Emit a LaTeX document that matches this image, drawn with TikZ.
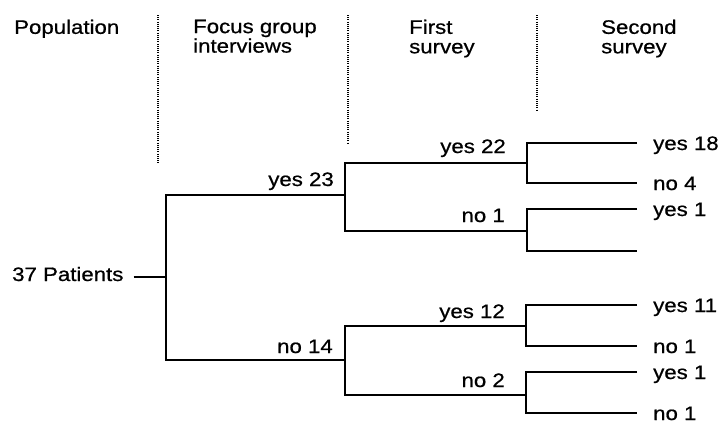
\documentclass[tikz,border=0pt]{standalone}
\usepackage{fontspec}
\setmainfont[FakeStretch=1.14,FakeBold=0.7]{Liberation Sans}
\begin{document}
\begin{tikzpicture}[x=1pt,y=-1pt,
  every node/.style={inner sep=0pt, font=\fontsize{19.5}{19.5}\selectfont},
  tree/.style={line width=1.5pt},
  divider/.style={line width=1.3pt, dash pattern=on 1pt off 1.2pt},
  brlabel/.style={anchor=base east},
  leaflabel/.style={anchor=base west},
  head/.style={anchor=north west, align=left}]
\useasboundingbox[fill=white] (0,0) rectangle (718,423);

% headers
\node[head] (hpop)   at (14,19.5)  {Population};
\node[head] (hfoc)   at (193,19.5) {Focus group\\interviews};
\node[head] (hfirst) at (409,19.5) {First\\survey};
\node[head] (hsec)   at (601,19.5) {Second\\survey};

% dividers
\coordinate (d1t) at (158,15); \coordinate (d1b) at (158,164);
\coordinate (d2t) at (348,15); \coordinate (d2b) at (348,144);
\coordinate (d3t) at (537,15); \coordinate (d3b) at (537,110);
\draw[divider] (d1t) -- (d1b);
\draw[divider] (d2t) -- (d2b);
\draw[divider] (d3t) -- (d3b);

% root
\node[anchor=base west] (P) at (12,281) {37 Patients};
\coordinate (r) at (166,277);
\coordinate (rs) at ([xshift=10]P.east |- r);
\draw[tree] (rs) -- (r);

% level 1
\coordinate (a1) at (345,195);
\coordinate (a2) at (345,360);
\draw[tree] (a1) -| (r) |- (a2);
\node[brlabel] (la1) at (334,186) {yes 23};
\node[brlabel] (la2) at (333,353) {no 14};

% level 2
\coordinate (b1) at (527,163);
\coordinate (b2) at (527,231);
\coordinate (b3) at (526,326);
\coordinate (b4) at (526,395);
\draw[tree] (b1) -| (a1) |- (b2);
\draw[tree] (b3) -| (a2) |- (b4);
\node[brlabel] (lb1) at (506,153) {yes 22};
\node[brlabel] (lb2) at (505,222) {no 1};
\node[brlabel] (lb3) at (505,318) {yes 12};
\node[brlabel] (lb4) at (505,387) {no 2};

% level 3 (leaves)
\coordinate (c1) at (637,143);
\coordinate (c2) at (637,183);
\coordinate (c3) at (637,209);
\coordinate (c4) at (637,251);
\coordinate (c5) at (637,305);
\coordinate (c6) at (637,346);
\coordinate (c7) at (637,372);
\coordinate (c8) at (637,413);
\draw[tree] (c1) -| (b1) |- (c2);
\draw[tree] (c3) -| (b2) |- (c4);
\draw[tree] (c5) -| (b3) |- (c6);
\draw[tree] (c7) -| (b4) |- (c8);
\node[leaflabel] (l1) at (653,150) {yes 18};
\node[leaflabel] (l2) at (653,190) {no 4};
\node[leaflabel] (l3) at (653,216) {yes 1};
\node[leaflabel] (l5) at (653,312) {yes 11};
\node[leaflabel] (l6) at (653,353) {no 1};
\node[leaflabel] (l7) at (653,379) {yes 1};
\node[leaflabel] (l8) at (653,420) {no 1};
\end{tikzpicture}
\end{document}
